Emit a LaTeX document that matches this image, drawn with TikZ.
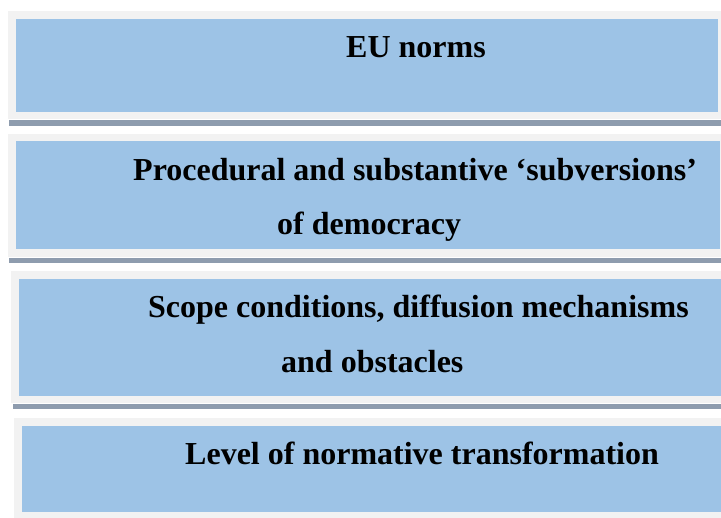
\documentclass[tikz,border=0pt]{standalone}
\usepackage{fontspec}
\setmainfont{Liberation Serif}
\definecolor{boxblue}{HTML}{9DC3E6}
\definecolor{framegray}{HTML}{F2F2F2}
\definecolor{bargray}{HTML}{8E9CAE}
\begin{document}
\begin{tikzpicture}[x=1pt,y=-1pt,
  lbl/.style={anchor=base west,inner sep=0pt,font=\fontsize{32}{38}\selectfont\bfseries,text=black}]
\useasboundingbox[fill=white] (0,0) rectangle (721,518);
% box 1
\fill[framegray] (8,11) rectangle (721,119);
\fill[boxblue] (16,19) rectangle (718,112);
\fill[bargray] (9,120) rectangle (721,126);
% box 2
\fill[framegray] (8,134) rectangle (721,257);
\fill[boxblue] (16,141) rectangle (720,249);
\fill[bargray] (9,258) rectangle (721,263);
% box 3
\fill[framegray] (11,271) rectangle (721,403);
\fill[boxblue] (19,279) rectangle (721,396);
\fill[bargray] (13,404) rectangle (721,409);
% box 4
\fill[framegray] (14,418) rectangle (721,518);
\fill[boxblue] (22,426) rectangle (721,512);
% texts
\node[lbl] (t1) at (346,58) {EU norms};
\node[lbl] (t2a) at (133,181) {Procedural and substantive ‘subversions’};
\node[lbl] (t2b) at (277,235) {of democracy};
\node[lbl] (t3a) at (148,318) {Scope conditions, diffusion mechanisms};
\node[lbl] (t3b) at (281,373) {and obstacles};
\node[lbl] (t4) at (185,465) {Level of normative transformation};
\end{tikzpicture}
\end{document}
